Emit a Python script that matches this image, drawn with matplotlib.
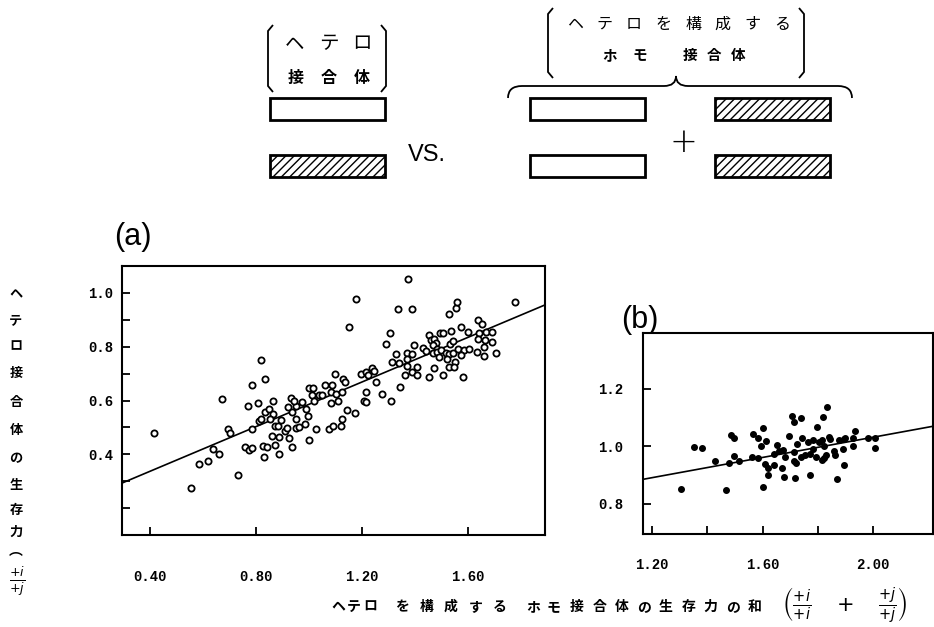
import matplotlib
matplotlib.use('Agg')
import matplotlib.pyplot as plt
from matplotlib.patches import Rectangle
from matplotlib.path import Path
from matplotlib.patches import PathPatch
import numpy as np

plt.rcParams['font.family'] = ['Noto Sans CJK JP', 'DejaVu Sans']
plt.rcParams['hatch.linewidth'] = 1.0

# (a) ヘテロ接合体 vs ホモ接合体の和 (open circles)
xa = [0.415, 0.555, 0.585, 0.619, 0.638, 0.660, 0.672, 0.694, 0.700, 0.732,
      0.758, 0.774, 0.785, 0.785, 0.770, 0.785, 0.819, 0.834, 0.808, 0.811,
      0.817, 0.830, 0.826, 0.841, 0.834, 0.849, 0.864, 0.864, 0.853, 0.860,
      0.872, 0.887, 0.872, 0.883, 0.887, 0.894, 0.909, 0.917, 0.925, 0.936,
      0.921, 0.936, 0.951, 0.932, 0.943, 0.951, 0.951, 0.962, 0.974, 0.985,
      0.989, 0.996, 1.000, 1.000, 1.015, 1.011, 1.019, 1.026, 1.038, 1.049,
      1.060, 1.087, 1.083, 1.102, 1.083, 1.098, 1.075, 1.090, 1.109, 1.125,
      1.128, 1.136, 1.143, 1.125, 1.121, 1.174, 1.151, 1.177, 1.196, 1.215,
      1.223, 1.238, 1.245, 1.215, 1.208, 1.215, 1.253, 1.275, 1.309, 1.343,
      1.362, 1.290, 1.306, 1.328, 1.313, 1.340, 1.370, 1.370, 1.370, 1.389,
      1.389, 1.396, 1.408, 1.408, 1.336, 1.389, 1.374, 1.430, 1.442, 1.453,
      1.460, 1.472, 1.479, 1.468, 1.483, 1.472, 1.453, 1.468, 1.483, 1.498,
      1.494, 1.506, 1.517, 1.528, 1.543, 1.521, 1.491, 1.551, 1.528, 1.547,
      1.506, 1.532, 1.543, 1.536, 1.528, 1.555, 1.558, 1.574, 1.600, 1.562,
      1.585, 1.604, 1.574, 1.581, 1.638, 1.653, 1.642, 1.668, 1.690, 1.638,
      1.664, 1.690, 1.634, 1.660, 1.660, 1.706, 1.777]
ya = [0.478, 0.274, 0.363, 0.374, 0.419, 0.400, 0.607, 0.493, 0.478, 0.322,
      0.426, 0.415, 0.422, 0.493, 0.578, 0.656, 0.752, 0.681, 0.589, 0.522,
      0.530, 0.389, 0.430, 0.426, 0.556, 0.567, 0.548, 0.600, 0.530, 0.467,
      0.433, 0.463, 0.504, 0.507, 0.400, 0.526, 0.485, 0.496, 0.459, 0.426,
      0.574, 0.559, 0.578, 0.611, 0.600, 0.533, 0.496, 0.500, 0.596, 0.511,
      0.567, 0.544, 0.452, 0.648, 0.648, 0.622, 0.600, 0.493, 0.622, 0.619,
      0.656, 0.656, 0.630, 0.626, 0.589, 0.700, 0.493, 0.504, 0.600, 0.633,
      0.681, 0.667, 0.563, 0.530, 0.507, 0.552, 0.874, 0.978, 0.700, 0.707,
      0.696, 0.722, 0.711, 0.630, 0.600, 0.593, 0.667, 0.626, 0.600, 0.652,
      0.696, 0.811, 0.852, 0.774, 0.744, 0.741, 0.778, 0.756, 0.730, 0.774,
      0.707, 0.807, 0.726, 0.693, 0.941, 0.941, 1.052, 0.796, 0.785, 0.844,
      0.826, 0.830, 0.815, 0.807, 0.793, 0.722, 0.689, 0.778, 0.781, 0.789,
      0.852, 0.852, 0.778, 0.774, 0.778, 0.756, 0.763, 0.744, 0.726, 0.726,
      0.696, 0.811, 0.822, 0.859, 0.922, 0.944, 0.967, 0.874, 0.856, 0.793,
      0.789, 0.793, 0.770, 0.689, 0.900, 0.885, 0.852, 0.856, 0.856, 0.830,
      0.826, 0.819, 0.781, 0.800, 0.767, 0.778, 0.967]
fit_a = (0.171, 0.415)   # intercept, slope

# (b) filled dots
xb = [1.303, 1.352, 1.380, 1.428, 1.468, 1.486, 1.495, 1.480, 1.495, 1.513,
      1.563, 1.582, 1.567, 1.585, 1.601, 1.594, 1.613, 1.601, 1.608, 1.621,
      1.619, 1.640, 1.652, 1.640, 1.658, 1.671, 1.676, 1.682, 1.674, 1.697,
      1.705, 1.715, 1.740, 1.718, 1.715, 1.722, 1.724, 1.715, 1.742, 1.740,
      1.754, 1.766, 1.772, 1.772, 1.782, 1.784, 1.794, 1.798, 1.820, 1.834,
      1.803, 1.815, 1.821, 1.823, 1.830, 1.815, 1.839, 1.845, 1.857, 1.863,
      1.875, 1.893, 1.899, 1.891, 1.871, 1.896, 1.929, 1.935, 1.927, 1.982,
      2.008, 2.008]
yb = [0.851, 0.998, 0.994, 0.950, 0.848, 1.041, 1.029, 0.944, 0.965, 0.948,
      0.963, 0.959, 1.043, 1.031, 1.063, 1.003, 1.020, 0.858, 0.940, 0.925,
      0.899, 0.934, 1.006, 0.975, 0.983, 0.925, 0.892, 0.963, 0.986, 1.038,
      1.107, 1.085, 1.100, 0.890, 0.948, 0.942, 1.009, 0.980, 1.029, 0.963,
      0.969, 1.015, 0.975, 0.902, 1.024, 0.992, 0.963, 1.067, 1.104, 1.136,
      1.015, 1.021, 1.003, 0.959, 0.969, 0.951, 1.032, 1.027, 0.983, 0.971,
      1.021, 1.027, 1.030, 0.992, 0.888, 0.937, 1.029, 1.052, 1.003, 1.029,
      1.029, 0.995]
fit_b = (0.68, 0.176)

xticks_a = [0.40, 0.80, 1.20, 1.60]
yticks_a = [0.2, 0.3, 0.4, 0.5, 0.6, 0.7, 0.8, 0.9, 1.0]
ylabels_a = ['', '', '0.4', '', '0.6', '', '0.8', '', '1.0']
xticks_b = [1.2, 1.4, 1.6, 1.8, 2.0]
xlabels_b = ['1.20', '', '1.60', '', '2.00']
yticks_b = [0.8, 1.0, 1.2]

W, H = 934, 627
fig = plt.figure(figsize=(W / 100, H / 100), dpi=100)

tickfont = dict(family='Liberation Mono', weight='bold', size=10)

def style(ax):
    for s in ax.spines.values():
        s.set_linewidth(1.5)
    ax.tick_params(direction='in', length=6, width=1.3)

# panel (a)
ax1 = fig.add_axes([122 / W, 1 - 535 / H, 423 / W, 269 / H])
ax1.scatter(xa, ya, s=20, facecolors='white', edgecolors='black', linewidths=1.3, zorder=3)
xl = np.array([0.294, 1.89])
ax1.plot(xl, fit_a[0] + fit_a[1] * xl, color='black', lw=1.2)
ax1.set_xlim(0.294, 1.89)
ax1.set_ylim(0.10, 1.10)
ax1.set_xticks(xticks_a)
ax1.set_xticklabels(['%.2f' % v for v in xticks_a], **tickfont)
ax1.set_yticks(yticks_a)
ax1.set_yticklabels(ylabels_a, **tickfont)
style(ax1)
ax1.tick_params(axis='x', pad=25)
ax1.tick_params(axis='y', pad=6)

# panel (b)
ax2 = fig.add_axes([643 / W, 1 - 534 / H, 290 / W, 201 / H])
ax2.scatter(xb, yb, s=16, color='black', zorder=3)
xl = np.array([1.167, 2.217])
ax2.plot(xl, fit_b[0] + fit_b[1] * xl, color='black', lw=1.2)
ax2.set_xlim(1.167, 2.217)
ax2.set_ylim(0.695, 1.395)
ax2.set_xticks(xticks_b)
ax2.set_xticklabels(xlabels_b, **tickfont)
ax2.set_yticks(yticks_b)
ax2.set_yticklabels(['%.1f' % v for v in yticks_b], **tickfont)
style(ax2)
ax2.tick_params(axis='x', pad=17)
ax2.tick_params(axis='y', pad=14)

# overlay in pixel coordinates for the schematic and labels
ov = fig.add_axes([0, 0, 1, 1], zorder=-1)
ov.set_xlim(0, W)
ov.set_ylim(H, 0)
ov.axis('off')

def spaced(text, x0, x1, y, size, bold=False):
    # spread characters evenly between x0 and x1 (centres)
    xs = np.linspace(x0, x1, len(text))
    for c, xx in zip(text, xs):
        ov.text(xx, y, c, fontsize=size, ha='center', va='center',
                weight='bold' if bold else 'normal')

ov.text(133, 237, '(a)', fontsize=22, family='Liberation Sans', ha='center', va='center')
ov.text(640, 320, '(b)', fontsize=22, family='Liberation Sans', ha='center', va='center')

# y label written vertically
ychars = ['ヘ', 'テ', 'ロ', '接', '合', '体', 'の', '生', '存', '力']
ypos = [293, 320, 346, 373, 402, 430, 458, 485, 510, 532]
for c, yy in zip(ychars, ypos):
    ov.text(16, yy, c, fontsize=9.5, ha='center', va='center', weight='bold')
ov.text(16, 551, '︵', fontsize=10, ha='center', va='center', weight='bold')
ov.text(17, 582, r'$\frac{+i}{+j}$', fontsize=13, ha='center', va='center')

# x label
spaced('ヘテロ', 338, 370, 607, 10, True)
spaced('を構成する', 402, 500, 607, 10, True)
spaced('ホモ', 533, 553, 607, 10, True)
spaced('接合体の生存力の和', 577, 755, 607, 10, True)
ov.text(782, 606, r'$\left(\frac{+i}{+i}\quad+\quad\frac{+j}{+j}\right)$', fontsize=15,
        ha='left', va='center')

# schematic bars
def bar(x0, y0, hatched):
    ov.add_patch(Rectangle((x0, y0), 115, 22, facecolor='white', edgecolor='black',
                           lw=2, hatch='////' if hatched else None))

bar(270, 98, False)
bar(270, 155, True)
bar(530, 98, False)
bar(530, 155, False)
bar(715, 98, True)
bar(715, 155, True)
ov.text(427, 155, 'VS.', fontsize=17, family='Liberation Sans', ha='center', va='center')
ov.text(683, 142, '+', fontsize=24, family='DejaVu Sans', ha='center', va='center', weight='light')

# brackets
def bracket(x, y0, y1, side):
    d = 5 if side == 'l' else -5
    verts = [(x + d, y0), (x, y0 + 6), (x, y1 - 6), (x + d, y1)]
    codes = [Path.MOVETO, Path.LINETO, Path.LINETO, Path.LINETO]
    ov.add_patch(PathPatch(Path(verts, codes), fill=False, lw=1.3))

bracket(268, 25, 92, 'l')
bracket(386, 25, 92, 'r')
bracket(548, 8, 78, 'l')
bracket(804, 8, 78, 'r')

spaced('ヘテロ', 295, 362, 44, 14)
spaced('接合体', 296, 362, 78, 11.5, True)
spaced('ヘテロを構成する', 575, 782, 24, 11.5)
spaced('ホモ', 610, 640, 55, 10.5, True)
spaced('接合体', 690, 738, 55, 10.5, True)

# curly brace over the homozygote bars
bverts = [(508, 98), (508, 86), (522, 86), (664, 86), (676, 86), (676, 76),
          (676, 86), (688, 86), (838, 86), (852, 86), (852, 98)]
bcodes = [Path.MOVETO, Path.CURVE3, Path.CURVE3, Path.LINETO, Path.CURVE3, Path.CURVE3,
          Path.CURVE3, Path.CURVE3, Path.LINETO, Path.CURVE3, Path.CURVE3]
ov.add_patch(PathPatch(Path(bverts, bcodes), fill=False, lw=1.3))

fig.savefig('out.png', dpi=100)
